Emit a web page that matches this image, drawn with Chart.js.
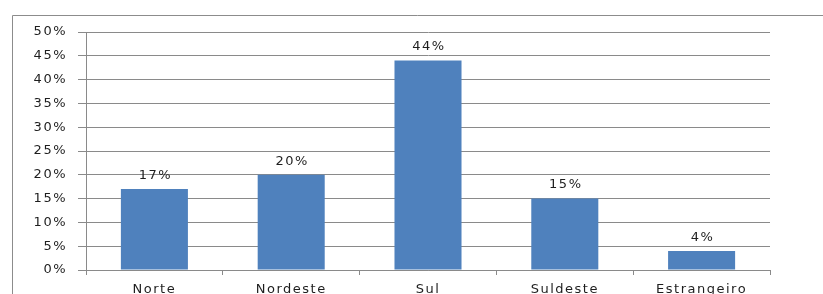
<!DOCTYPE html>
<html lang="pt">
<head>
  <meta charset="UTF-8">
  <title>Origem</title>
  <script src="https://cdn.jsdelivr.net/npm/chart.js"></script>
  <style>
    html, body { margin: 0; padding: 0; background: #fff; }
    canvas { display: block; }
  </style>
</head>
<body>
  <canvas id="chart" width="823" height="294"></canvas>

  <script>
    const categories = ['Norte', 'Nordeste', 'Sul', 'Suldeste', 'Estrangeiro'];
    const values = [17, 20, 44, 15, 4];
    const yTicks = [0, 5, 10, 15, 20, 25, 30, 35, 40, 45, 50];

    const gridColor = '#8a8a8a';
    const textColor = '#1e1e1e';
    const font = { family: 'DejaVu Sans', size: 13 };

    // letter spacing + outer frame + value labels
    const decor = {
      id: 'decor',
      beforeDraw(chart) {
        const ctx = chart.ctx;
        ctx.letterSpacing = '1.5px';
        ctx.save();
        ctx.strokeStyle = '#8c8c8c';
        ctx.lineWidth = 1;
        ctx.beginPath();
        ctx.moveTo(12.5, 294);
        ctx.lineTo(12.5, 15.5);
        ctx.lineTo(823, 15.5);
        ctx.stroke();
        ctx.restore();
      },
      afterDatasetsDraw(chart) {
        const ctx = chart.ctx;
        const meta = chart.getDatasetMeta(0);
        ctx.save();
        ctx.letterSpacing = '1.5px';
        ctx.font = font.size + 'px ' + font.family;
        ctx.fillStyle = textColor;
        ctx.textAlign = 'center';
        ctx.textBaseline = 'bottom';
        meta.data.forEach((bar, i) => {
          ctx.fillText(values[i] + '%', bar.x + 1, bar.y - 7);
        });
        ctx.restore();
      }
    };

    new Chart(document.getElementById('chart').getContext('2d'), {
      type: 'bar',
      data: {
        labels: categories,
        datasets: [{
          data: values,
          backgroundColor: '#4F81BD',
          borderWidth: 0,
          categoryPercentage: 1,
          barPercentage: 0.49
        }]
      },
      options: {
        responsive: false,
        animation: false,
        layout: { padding: { left: 0, right: 53, top: 32, bottom: 0 } },
        plugins: {
          legend: { display: false },
          tooltip: { enabled: false }
        },
        scales: {
          x: {
            grid: {
              offset: true,
              drawOnChartArea: false,
              color: gridColor,
              tickLength: 5
            },
            border: { color: gridColor },
            ticks: { color: textColor, font: font, padding: 7, maxRotation: 0 },
            afterFit(scale) { scale.height = 24; }
          },
          y: {
            min: 0,
            max: 50,
            afterBuildTicks(scale) { scale.ticks = yTicks.map(v => ({ value: v })); },
            grid: { color: gridColor, tickLength: 8 },
            border: { color: gridColor },
            ticks: {
              color: textColor,
              font: font,
              padding: 11,
              callback: v => v + '%'
            },
            afterFit(scale) { scale.width = 86; }
          }
        }
      },
      plugins: [decor]
    });
  </script>
</body>
</html>
